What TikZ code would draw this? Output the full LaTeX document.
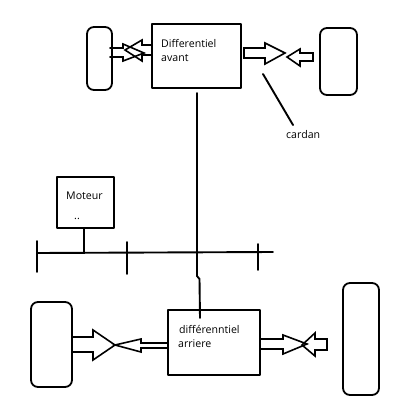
\documentclass[tikz,border=0pt]{standalone}
\usepackage{fontspec}
\setmainfont{Open Sans}
\tikzset{
  boite/.style={draw,line width=1.8pt,inner sep=0pt,outer sep=0pt},
  roue/.style={boite,rounded corners=7pt},
  trait/.style={line width=1.9pt},
  fleche/.style={line width=1.6pt,line join=miter},
  texte/.style={anchor=west,inner sep=0pt,font=\fontsize{10.6}{12}\selectfont},
}
\begin{document}
\begin{tikzpicture}[x=1pt,y=-1pt,line cap=round,line join=round]
  \useasboundingbox (0,0) rectangle (408,415);
  \node[boite,minimum width=89pt,minimum height=64pt] (avant) at (196.5,56) {};
  \node[boite,minimum width=92pt,minimum height=65pt] (arriere) at (214,342.5) {};
  \node[boite,minimum width=57pt,minimum height=51pt] (moteur) at (85.5,202.5) {};
  \node[roue,minimum width=25pt,minimum height=63pt] (roueAG) at (99.5,58.5) {};
  \node[roue,minimum width=37pt,minimum height=67pt] (roueAD) at (338.5,61.5) {};
  \node[roue,minimum width=41pt,minimum height=85pt] (roueRG) at (51.5,344.5) {};
  \node[roue,minimum width=36pt,minimum height=112pt] (roueRD) at (361,339) {};
  \coordinate (H) at (197,93);
  \coordinate (K) at (197,276);
  \coordinate (L) at (199.5,279);
  \coordinate (R) at (200,318);
  \coordinate (B1) at (37,253);
  \coordinate (B2) at (273,252);
  \coordinate (S) at (84,253);
  % arbre et barre
  \draw[trait] (H) -- (K) -- (L) -- (R);
  \draw[trait] (B1) -- (B2);
  \draw[trait] (moteur.south -| S) -- (S);
  \draw[trait] (37,241) -- (37,272);
  \draw[trait] (127,242) -- (127,274);
  \draw[trait] (258,244) -- (258,270);
  \coordinate (C1) at (263,74);
  \coordinate (C2) at (293,125);
  \draw[trait] (C1) -- (C2);
  % avant gauche
  \draw[fleche] (110,48) -- (123,48) -- (123,44) -- (144,53) -- (123,61) -- (123,57) -- (110,57);
  \draw[fleche] (152,45) -- (142,45) -- (142,40) -- (125,50) -- (142,61) -- (142,55) -- (152,55);
  % avant droite
  \draw[fleche] (244,48) -- (265,48) -- (265,43) -- (285,53) -- (265,64) -- (265,58) -- (244,58) -- cycle;
  \draw[fleche] (313,53) -- (300,53) -- (300,49) -- (287,57) -- (300,66) -- (300,61) -- (313,61) -- cycle;
  % arriere gauche
  \draw[fleche] (72,337) -- (93,337) -- (93,330) -- (115,345) -- (93,360) -- (93,352) -- (72,352);
  \draw[fleche] (168,343) -- (141,343) -- (141,339) -- (115,345) -- (141,352) -- (141,348) -- (168,348);
  % arriere droite
  \draw[fleche] (260,339) -- (283,339) -- (283,335) -- (307,344) -- (283,354) -- (283,349) -- (260,349);
  \draw[fleche] (327,339) -- (315,339) -- (315,333) -- (302,345) -- (315,356) -- (315,350) -- (327,350) -- cycle;
  % textes
  \node[texte] (t1) at (161,43) {Differentiel};
  \node[texte] (t2) at (161,58) {avant};
  \node[texte] (t3) at (286,135) {cardan};
  \node[texte] (t4) at (66,196) {Moteur};
  \node[texte] (t5) at (74,219) {..};
  \node[texte] (t6) at (179,329) {différenntiel};
  \node[texte] (t7) at (178,344) {arriere};
\end{tikzpicture}
\end{document}
